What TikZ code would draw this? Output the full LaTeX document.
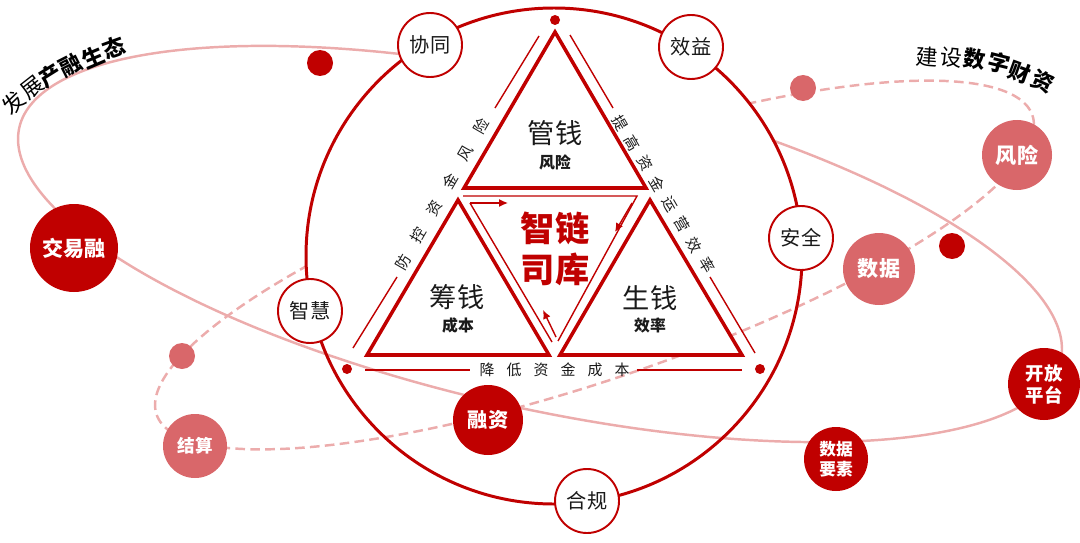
\documentclass[tikz,border=0pt]{standalone}
\usepackage{fontspec}
\setmainfont{Noto Sans CJK SC}
\usetikzlibrary{arrows.meta,positioning}

\definecolor{zred}{HTML}{C00000}
\definecolor{zfade}{HTML}{D9676A}
\definecolor{zpink}{HTML}{ECACAC}
\definecolor{zink}{HTML}{1A1A1A}

\begin{document}
\begin{tikzpicture}[
    x=0.2mm, y=-0.2mm,
    wheel/.style={circle, draw=zred, line width=1.1pt, fill=white, inner sep=0pt,
      minimum size=12.8mm, text=zink, font=\fontsize{11.5}{13}\selectfont},
    hub/.style={circle, fill=zred, text=white, inner sep=0pt, align=center,
      font=\bfseries\fontsize{11.5}{13}\selectfont},
    soft/.style={hub, fill=zfade},
    orbit/.style={draw=zpink, line width=1.4pt},
    dashorbit/.style={orbit, dash pattern=on 5.5pt off 3pt},
    tri/.style={draw=zred, fill=white, line width=2pt, line join=miter},
    rim/.style={draw=zred, line width=0.8pt},
    flow/.style={rim, -{Latex[length=5pt,width=4.5pt]}},
    tritext/.style={text=zink, inner sep=0pt, font=\fontsize{15.5}{16}\selectfont},
    trisub/.style={text=zink, inner sep=0pt, font=\bfseries\fontsize{9}{10}\selectfont},
    sidetext/.style={text=zink, inner sep=0pt, font=\fontsize{8.5}{9}\selectfont},
    headline/.style={text=black, inner sep=0pt, font=\fontsize{12.5}{13}\selectfont},
    boldline/.style={headline, font=\bfseries\fontsize{12.5}{13}\selectfont},
    bead/.style={circle, fill=zred, inner sep=0pt, minimum size=5.2mm},
    knot/.style={circle, fill=zred, inner sep=0pt, minimum size=2mm}
  ]

  \useasboundingbox (0,0) rectangle (1080,542);
  \coordinate (ctr) at (554,256);

  % orbits, back side first
  \draw[orbit] plot[domain=0:360, samples=144, smooth]
    ({540+522*cos(\x)},{244+105*cos(\x)+168*sin(\x)});
  \draw[dashorbit] plot[domain=0:360, samples=144, smooth]
    ({594.5+439.5*cos(\x)},{265-140*cos(\x)+120*sin(\x)});

  % globe hides the back of the orbits
  \fill[white] (ctr) circle (248);
  \begin{scope}
    \clip (ctr) circle (248);
    \draw[orbit] plot[domain=0:180, samples=72, smooth]
      ({540+522*cos(\x)},{244+105*cos(\x)+168*sin(\x)});
    \draw[dashorbit] plot[domain=0:180, samples=72, smooth]
      ({594.5+439.5*cos(\x)},{265-140*cos(\x)+120*sin(\x)});
  \end{scope}
  \draw[zred, line width=1.7pt] (ctr) circle (248);

  % three triangles
  \coordinate (gq1) at (555,32);  \coordinate (gq2) at (464,188); \coordinate (gq3) at (646,188);
  \coordinate (cq1) at (458,200); \coordinate (cq2) at (367,355); \coordinate (cq3) at (549,355);
  \coordinate (sq1) at (650,200); \coordinate (sq2) at (560,355); \coordinate (sq3) at (742,355);
  \draw[tri] (gq1) -- (gq2) -- (gq3) -- cycle;
  \draw[tri] (cq1) -- (cq2) -- (cq3) -- cycle;
  \draw[tri] (sq1) -- (sq2) -- (sq3) -- cycle;

  % inner loop with arrows
  \coordinate (in1) at (463,196); \coordinate (in2) at (637,196); \coordinate (in3) at (558,341);
  \coordinate (il1) at (470,203); \coordinate (il2) at (552,342);
  \draw[rim] (in1) -- (in2) -- (in3);
  \draw[rim] (il2) -- (il1);
  \coordinate (a1) at (508,203);
  \coordinate (a2s) at (632,203); \coordinate (a2e) at (615,232);
  \coordinate (a3s) at (556,337); \coordinate (a3e) at (543,310);
  \draw[flow] (il1) -- (a1);
  \draw[flow] (a2s) -- (a2e);
  \draw[flow] (a3s) -- (a3e);

  % outer rails
  \coordinate (l1) at (353,348); \coordinate (l2) at (397,277);
  \coordinate (l3) at (495,108); \coordinate (l4) at (539,36);
  \coordinate (r1) at (570,35);  \coordinate (r2) at (613,108);
  \coordinate (r3) at (710,277); \coordinate (r4) at (755,353);
  \coordinate (b1) at (365,370); \coordinate (b2) at (470,370);
  \coordinate (b3) at (637,370); \coordinate (b4) at (742,370);
  \draw[rim] (l1) -- (l2) (l3) -- (l4);
  \draw[rim] (r1) -- (r2) (r3) -- (r4);
  \draw[rim] (b1) -- (b2) (b3) -- (b4);
  \node[knot] (k1) at (555,20) {};
  \node[knot] (k2) at (347,369) {};
  \node[knot] (k3) at (760,369) {};

  \foreach \ch [count=\i from 0] in {防,控,资,金,风,险}
    \node[sidetext, rotate=60] (fk\i) at ({403+15.7*\i},{262-27.1*\i}) {\ch};
  \foreach \ch [count=\i from 0] in {提,高,资,金,运,营,效,率}
    \node[sidetext, rotate=-60] (tg\i) at ({620+12.4*\i},{123+20.3*\i}) {\ch};
  \foreach \ch [count=\i from 0] in {降,低,资,金,成,本}
    \node[sidetext] (jd\i) at ({487+27*\i},370) {\ch};

  % triangle texts
  \node[tritext] (gq) at (555,133) {管钱};
  \node[trisub] (gqs) at (555,162) {风险};
  \node[tritext] (cq) at (457,297) {筹钱};
  \node[trisub] (cqs) at (458,325) {成本};
  \node[tritext] (sq) at (650,298) {生钱};
  \node[trisub] (sqs) at (650,325) {效率};
  \node[text=zred, align=center, inner sep=0pt,
    font=\bfseries\fontsize{19.5}{23.3}\selectfont] (core) at (555,249) {智链\\司库};

  % values on the globe
  \node[wheel] (xt) at (430,45) {协同};
  \node[wheel] (xy) at (691,47) {效益};
  \node[wheel] (aq) at (801,238) {安全};
  \node[wheel] (zh) at (310,311) {智慧};
  \node[wheel] (hg) at (587,501) {合规};

  % beads on the orbits
  \node[bead] (d1) at (320,63) {};
  \node[bead] (d2) at (952,246) {};
  \node[bead, fill=zfade] (d3) at (803,88) {};
  \node[bead, fill=zfade] (d4) at (182,356) {};

  \node[hub, minimum size=17.6mm, font=\bfseries\fontsize{12}{13}\selectfont] (jyr) at (74,248) {交易融};
  \node[hub, minimum size=14mm] (rz) at (488,420) {融资};
  \node[hub, minimum size=14.4mm, font=\bfseries\fontsize{10.5}{12.5}\selectfont] (kf) at (1044,384) {开放\\平台};
  \node[hub, minimum size=12.8mm, font=\bfseries\fontsize{9.5}{11.3}\selectfont] (sj) at (836,459) {数据\\要素};
  \node[soft, minimum size=14mm, font=\bfseries\fontsize{12}{13}\selectfont] (fx) at (1017,155) {风险};
  \node[soft, minimum size=14.4mm, font=\bfseries\fontsize{12}{13}\selectfont] (sd) at (879,269) {数据};
  \node[soft, minimum size=12.8mm, font=\bfseries\fontsize{10}{11}\selectfont] (js) at (195,446) {结算};

  % curved titles
  \foreach \ch/\px/\py/\ang [count=\i] in {发/14/103/44, 展/32/88/38}
    \node[headline, rotate=\ang] (fz\i) at (\px,\py) {\ch};
  \foreach \ch/\px/\py/\ang [count=\i from 3] in {产/50/76/32, 融/71/65/27, 生/93/57/23, 态/114/48/20}
    \node[boldline, rotate=\ang] (fz\i) at (\px,\py) {\ch};
  \foreach \ch/\px/\py/\ang [count=\i] in {建/927/57/-4, 设/951/58/-6}
    \node[headline, rotate=\ang] (jz\i) at (\px,\py) {\ch};
  \foreach \ch/\px/\py/\ang [count=\i from 3] in {数/975/59/-9, 字/999/63/-14, 财/1020/72/-20, 资/1043/81/-24}
    \node[boldline, rotate=\ang] (jz\i) at (\px,\py) {\ch};

\end{tikzpicture}
\end{document}
